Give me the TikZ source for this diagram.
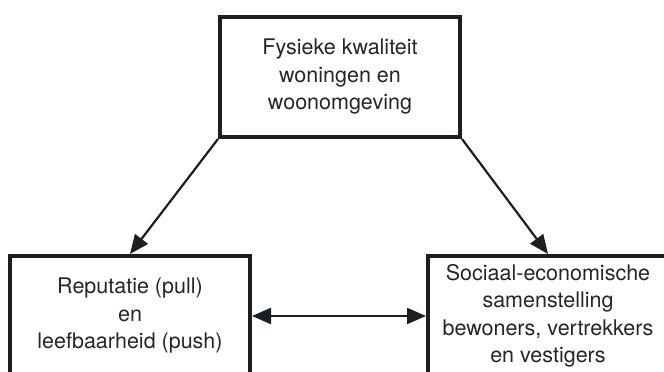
\documentclass[tikz,border=0pt]{standalone}
\usepackage{fontspec}
\setmainfont{TeX Gyre Heros}
\usetikzlibrary{arrows.meta}
\definecolor{ink}{RGB}{26,31,36}
\begin{document}
\begin{tikzpicture}[x=1pt,y=1pt,
  factor/.style={draw=ink, line width=4pt, fill=white, minimum width=240pt,
    minimum height=120pt, align=center, inner sep=0pt,
    font=\fontsize{21.5}{27.5}\selectfont, text=black!85},
  link/.style={draw=ink, line width=2.2pt,
    -{Triangle[length=19pt,width=16pt]}},
  both/.style={draw=ink, line width=2.2pt,
    {Triangle[length=19pt,width=16pt]}-{Triangle[length=19pt,width=16pt]}}]
\useasboundingbox (0,0) rectangle (664,372);
\clip (0,0) rectangle (664,372);
\fill[white] (0,0) rectangle (664,372);

\node[factor] (fys) at (340,295) {Fysieke kwaliteit\\woningen en\\woonomgeving};
\node[factor] (rep) at (130,56) {Reputatie (pull)\\en\\leefbaarheid (push)};
\node[factor] (soc) at (548,56) {Sociaal-economische\\samenstelling\\bewoners, vertrekkers\\en vestigers};

\draw[link] (fys.south west) -- (rep.north);
\draw[link] (fys.south east) -- (soc.north);
\draw[both] (rep.east) -- (soc.west);
\end{tikzpicture}
\end{document}
